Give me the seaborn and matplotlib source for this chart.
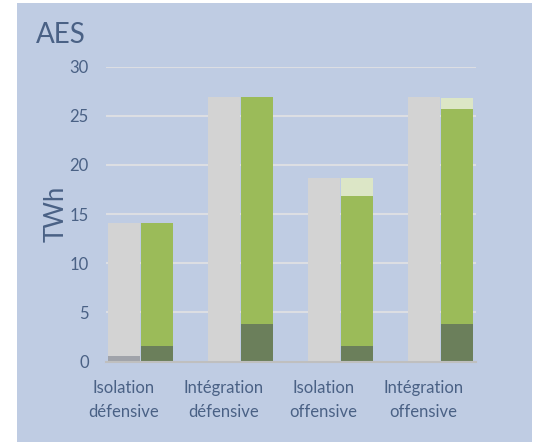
import matplotlib
matplotlib.use("Agg")
import matplotlib.pyplot as plt
import matplotlib.transforms as mtransforms
from matplotlib.patches import Rectangle
import seaborn as sns
import pandas as pd

# Scenario names (two-line tick labels)
categories = ["Isolation\ndéfensive", "Intégration\ndéfensive",
              "Isolation\noffensive", "Intégration\noffensive"]

# Reference column (grey) and its small dark base segment
reference_total = [14.1, 26.9, 18.7, 26.9]
reference_base = [0.55, 0.0, 0.0, 0.0]

# Scenario column (greens): dark base, main green top, pale top
scenario_base = [1.6, 3.8, 1.6, 3.8]
scenario_main = [14.1, 26.9, 16.8, 25.65]
scenario_total = [14.1, 26.9, 18.7, 26.8]

yticks = [0, 5, 10, 15, 20, 25, 30]

BG = "#BFCCE3"
TXT = "#4A6185"

sns.set_theme(style="white")
plt.rcParams["font.family"] = ["Lato", "DejaVu Sans"]

fig = plt.figure(figsize=(5.33, 4.42), dpi=100, facecolor="white")
fig.patches.append(Rectangle((17 / 533, 0), 1 - 18 / 533, 1 - 3 / 442,
                             transform=fig.transFigure, facecolor=BG,
                             edgecolor="none", zorder=-10))

ax = fig.add_axes([106 / 533, 1 - 361.5 / 442, 370 / 533, 294.8 / 442])
ax.set_facecolor("none")


def layer(ref_vals, scen_vals, ref_color, scen_color, z):
    df = pd.DataFrame({
        "cat": categories * 2,
        "val": list(ref_vals) + list(scen_vals),
        "serie": ["ref"] * 4 + ["scen"] * 4,
    })
    sns.barplot(data=df, x="cat", y="val", hue="serie", order=categories,
                hue_order=["ref", "scen"],
                palette={"ref": ref_color, "scen": scen_color},
                width=0.65, gap=0.03, linewidth=0, saturation=1,
                legend=False, ax=ax, zorder=z)


layer(reference_total, scenario_total, "#D3D3D3", "#DCE6C6", 3)
layer(reference_total, scenario_main, "#D3D3D3", "#9BBB59", 4)
layer(reference_base, scenario_base, "#A0A3AA", "#6B7F5B", 5)

ax.set_ylim(0, 30)
ax.set_xlim(-0.345, 3.355)
ax.set_yticks(yticks)
ax.yaxis.grid(True, color="#DCDEE3", linewidth=1.5, zorder=0)
ax.set_axisbelow(True)
ax.set_xlabel("")
ax.set_ylabel("")

for side in ["top", "right", "left"]:
    ax.spines[side].set_visible(False)
ax.spines["bottom"].set_color("#BFBFBF")
ax.spines["bottom"].set_linewidth(1.5)
ax.spines["bottom"].set_zorder(6)

ax.tick_params(axis="both", length=0, colors=TXT, labelsize=12)
ax.tick_params(axis="y", pad=12.5)
ax.tick_params(axis="x", pad=13)
ax.set_xticks(range(4))
ax.set_xticklabels(categories, linespacing=1.65)

shift = mtransforms.ScaledTranslation(-0.17, 0, fig.dpi_scale_trans)
for lbl in ax.get_xticklabels():
    lbl.set_transform(lbl.get_transform() + shift)

fig.text(36 / 533, 1 - 43.3 / 442, "AES", fontsize=20, color=TXT,
         ha="left", va="baseline")
fig.text(44 / 533, 1 - 214 / 442, "TWh", fontsize=18.5, color=TXT,
         rotation=90, ha="left", va="center")

fig.savefig("out.png", dpi=100, facecolor="white")
